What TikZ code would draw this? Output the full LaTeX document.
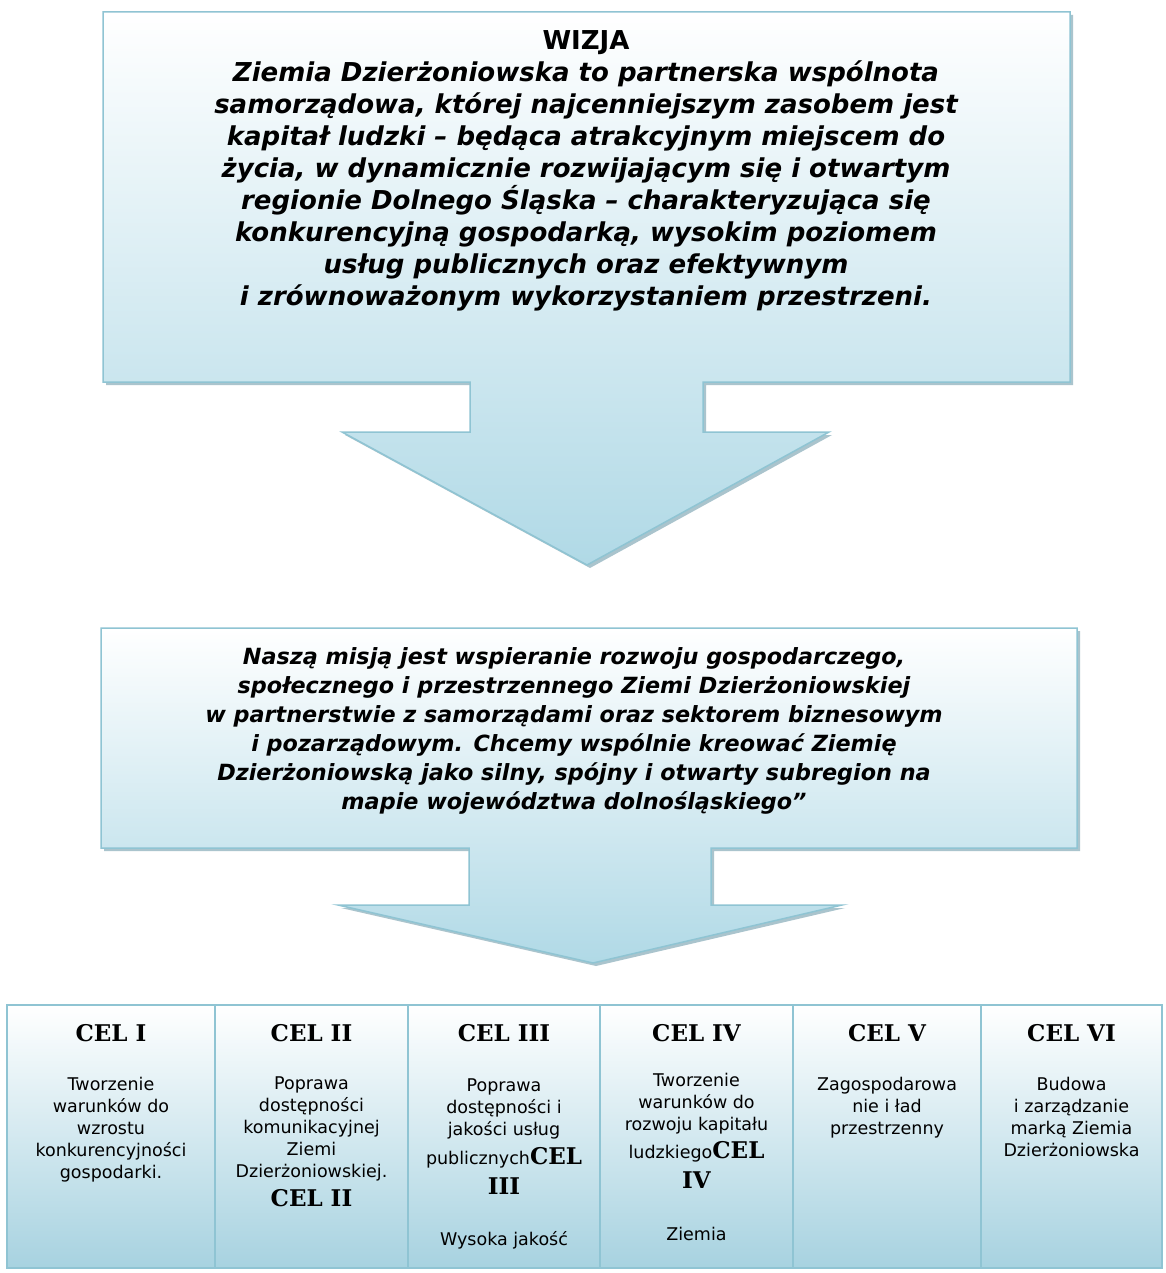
\documentclass[tikz,border=0pt]{standalone}
\usepackage{fontspec}
\setmainfont{DejaVu Sans}
\newfontfamily\celfont{DejaVu Serif}
\usepackage{tikz}
\usetikzlibrary{shadows}
\usetikzlibrary{positioning}
\usetikzlibrary{calc}
\definecolor{edgeblue}{HTML}{8FC4D3}
\definecolor{fillblue}{HTML}{B0D9E6}
\definecolor{colblue}{HTML}{A7D2E0}
\definecolor{shadowblue}{HTML}{86ABB8}
\tikzstyle{bigarrow}=[draw=edgeblue, line width=1.5pt, top color=white, bottom color=fillblue, drop shadow={shadow xshift=3pt, shadow yshift=-3pt, fill=shadowblue, opacity=0.7}]
\tikzstyle{column}=[draw=edgeblue, line width=2pt, top color=white, bottom color=colblue]
\tikzstyle{visiontext}=[align=center, inner sep=0pt, font=\fontsize{26}{32}\selectfont\bfseries\itshape]
\tikzstyle{missiontext}=[align=center, inner sep=0pt, font=\fontsize{22.3}{29}\selectfont\bfseries\itshape]
\tikzstyle{celtitle}=[inner sep=0pt, font=\fontsize{23}{26}\selectfont\celfont\bfseries]
\tikzstyle{celtext}=[align=center, inner sep=0pt, anchor=north, font=\fontsize{17.5}{22}\selectfont]
\newcommand{\celinline}[1]{{\fontsize{23}{26}\selectfont\celfont\bfseries #1}}

\begin{document}
\begin{tikzpicture}[x=1pt, y=-1pt]

    % page
    \fill[white] (0,0) rectangle (1165,1273);
    \useasboundingbox (0,0) rectangle (1165,1273);

    % Vision box with its arrow
    \path[bigarrow] (103,12) -- (1070,12) -- (1070,382) -- (703,382) -- (703,432) -- (829,432)
        -- (587,565) -- (342,432) -- (470,432) -- (470,382) -- (103,382) -- cycle;
    \node[visiontext, anchor=north] (vision) at (586,30) {%
        {\upshape WIZJA}\\
        Ziemia Dzierżoniowska to partnerska wspólnota\\
        samorządowa, której najcenniejszym zasobem jest\\
        kapitał ludzki – będąca atrakcyjnym miejscem do\\
        życia, w dynamicznie rozwijającym się i otwartym\\
        regionie Dolnego Śląska – charakteryzująca się\\
        konkurencyjną gospodarką, wysokim poziomem\\
        usług publicznych oraz efektywnym\\
        i zrównoważonym wykorzystaniem przestrzeni.};

    % Mission box with its arrow
    \path[bigarrow] (101,628) -- (1077,628) -- (1077,848) -- (711,848) -- (711,905) -- (842,905)
        -- (593,963) -- (338,905) -- (469,905) -- (469,848) -- (101,848) -- cycle;
    \node[missiontext, anchor=north] (mission) at (574,647) {%
        Naszą misją jest wspieranie rozwoju gospodarczego,\\
        społecznego i przestrzennego Ziemi Dzierżoniowskiej\\
        w partnerstwie z samorządami oraz sektorem biznesowym\\
        i pozarządowym. Chcemy wspólnie kreować Ziemię\\
        Dzierżoniowską jako silny, spójny i otwarty subregion na\\
        mapie województwa dolnośląskiego”};

    % Goals
    \foreach \xa/\xb in {7/215, 215/408, 408/600, 600/793, 793/981, 981/1162}
        \path[column] (\xa,1005) rectangle (\xb,1268);

    \foreach \x/\name/\label in {111/cel1/I, 311.5/cel2/II, 504/cel3/III, 696.5/cel4/IV, 887/cel5/V, 1071.5/cel6/VI}
        \node[celtitle] (\name) at (\x,1033) {CEL \label};

    \node[celtext] (goal1) at (111,1077) {Tworzenie\\warunków do\\wzrostu\\konkurencyjności\\gospodarki.};
    \node[celtext] (goal2) at (311.5,1077) {Poprawa\\dostępności\\komunikacyjnej\\Ziemi\\Dzierżoniowskiej.\\[7pt]\celinline{CEL II}};
    \node[celtext] (goal3) at (504,1079) {Poprawa\\dostępności i\\jakości usług\\[7pt]publicznych\celinline{CEL}\\[8pt]\celinline{III}\\[29pt]Wysoka jakość};
    \node[celtext] (goal4) at (696.5,1073) {Tworzenie\\warunków do\\rozwoju kapitału\\[6pt]ludzkiego\celinline{CEL}\\[8pt]\celinline{IV}\\[30pt]Ziemia};
    \node[celtext] (goal5) at (887,1077) {Zagospodarowa\\nie i ład\\przestrzenny};
    \node[celtext] (goal6) at (1071.5,1077) {Budowa\\i zarządzanie\\marką Ziemia\\Dzierżoniowska};

\end{tikzpicture}
\end{document}
